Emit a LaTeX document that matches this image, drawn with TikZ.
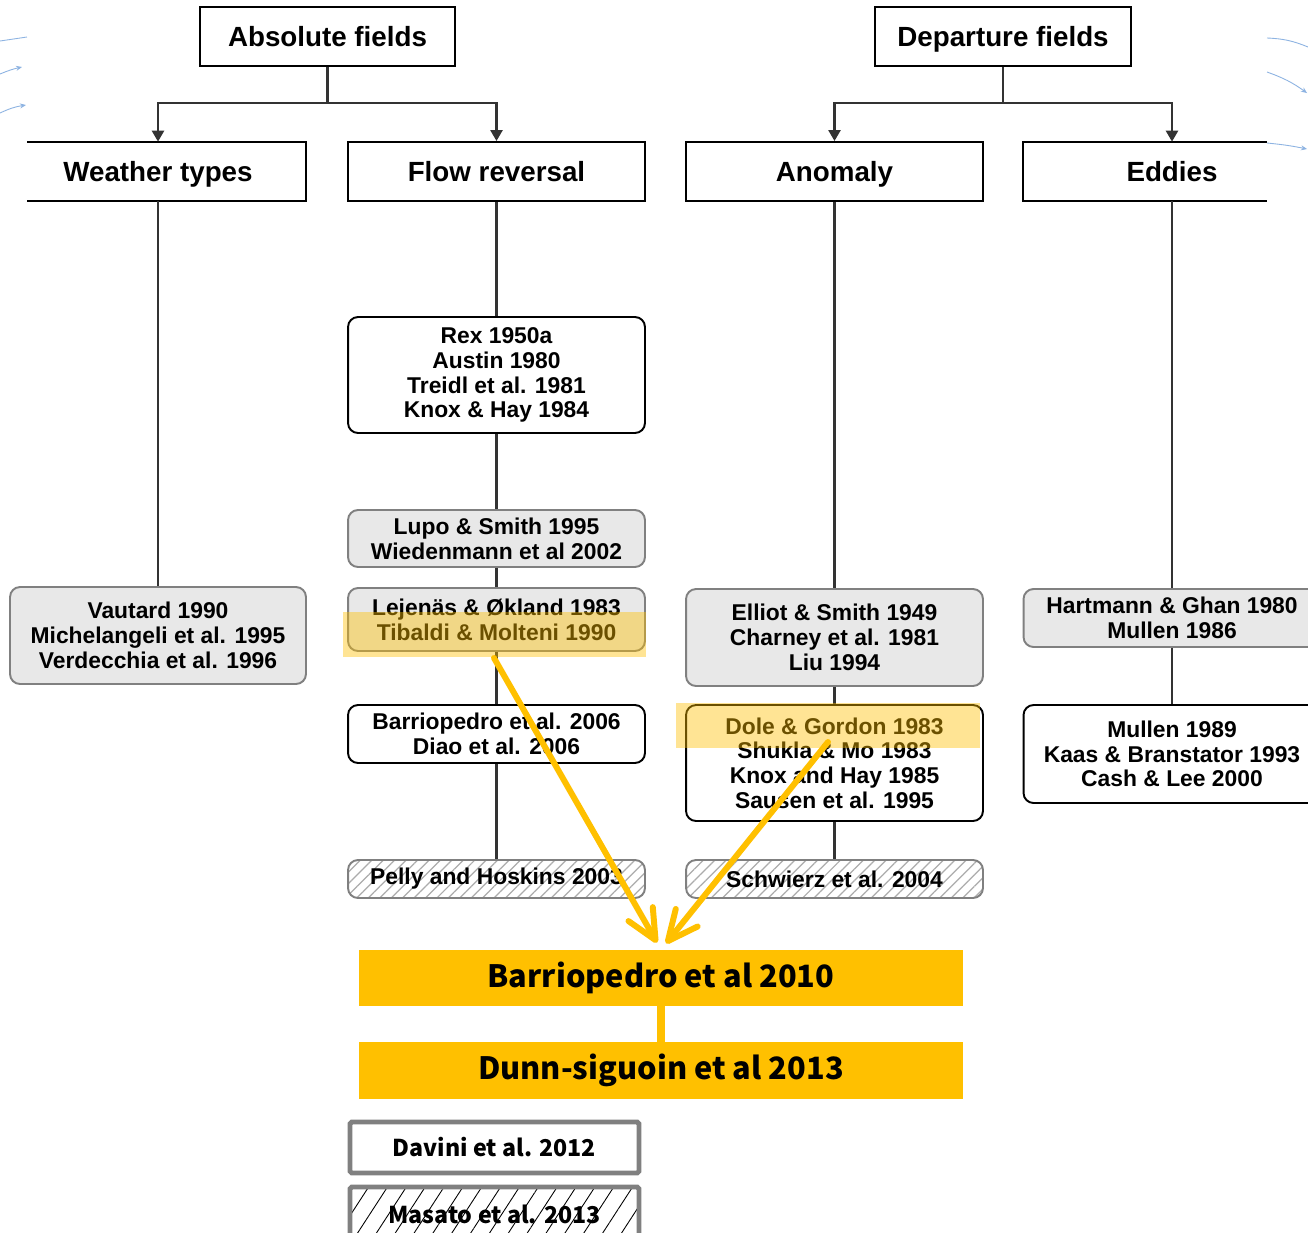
\documentclass[tikz,border=0pt]{standalone}
\usepackage{fontspec}
\setmainfont{Liberation Sans}
\newfontfamily\korfont{Noto Sans CJK KR}
\usetikzlibrary{arrows.meta}
\usetikzlibrary{patterns.meta}

\definecolor{gold}{HTML}{FFC000}
\definecolor{boxgray}{HTML}{E8E8E8}
\definecolor{edgegray}{HTML}{808080}
\definecolor{linkgray}{HTML}{333333}
\definecolor{slideblue}{HTML}{8DB3E2}

\begin{document}
\begin{tikzpicture}[
        x=0.02cm, y=-0.02cm,
        headbox/.style={draw=black, line width=1.1pt, fill=white, minimum height=1.18cm,
            text height=11.5pt, text depth=0pt, font=\fontsize{15.8}{18}\selectfont\bfseries},
        catbox/.style={minimum width=5.94cm, minimum height=1.18cm,
            text height=11.5pt, text depth=0pt, font=\fontsize{15.8}{18}\selectfont\bfseries},
        catline/.style={draw=black, line width=1.1pt},
        refbox/.style={rounded corners=0.2cm, align=center, minimum width=5.94cm, inner sep=2pt,
            font=\fontsize{13}{14.1}\selectfont\bfseries, line width=1.1pt},
        plainref/.style={refbox, draw=black, fill=white},
        greyref/.style={refbox, draw=edgegray, fill=boxgray},
        hatchref/.style={refbox, draw=edgegray, preaction={fill=white},
            pattern={Lines[angle=45, distance=4.6pt, line width=0.7pt]}, pattern color=gray!65},
        link/.style={draw=linkgray, line width=1.4pt},
        branch/.style={link, -{Triangle[length=2.2mm, width=2.4mm]}},
        hilite/.style={fill=gold, fill opacity=0.42},
        goldarrow/.style={draw=gold, line width=3.4pt, line cap=round,
            -{Straight Barb[length=6mm, width=5.6mm, round]}},
        goldbox/.style={fill=gold, minimum width=12.08cm, font=\korfont\fontsize{17.5}{20}\selectfont\bfseries},
        newbox/.style={draw=edgegray, line width=2.8pt, rounded corners=1pt, minimum width=5.78cm,
            font=\korfont\fontsize{13.2}{15}\selectfont\bfseries},
        slidearrow/.style={draw=slideblue, line width=0.5pt, -{Stealth[length=1.2mm, width=1mm]}},
    ]
    \useasboundingbox (0,0) rectangle (1308,1232);
    \clip (0,0) rectangle (1308,1232);
    \fill[white] (0,0) rectangle (1308,1232);

    % --- leftover arrows of the slide at both edges ---
    \draw[draw=slideblue, line width=0.5pt] (0,41) -- (27,37);
    \draw[slidearrow] (0,74) to[bend left=5] (22,67);
    \draw[slidearrow] (0,113) to[bend left=8] (26,105);
    \draw[draw=slideblue, line width=0.5pt] (1267,38) to[bend left=10] (1308,47);
    \draw[slidearrow] (1267,72) to[bend left=8] (1307,93);
    \draw[slidearrow] (1267,143) to[bend left=3] (1307,149);

    % --- top level ---
    \node[headbox, minimum width=5.1cm] (abs) at (327.5,36.5) {Absolute fields};
    \node[headbox, minimum width=5.12cm] (dep) at (1003,36.5) {Departure fields};

    % --- categories ---
    \node[catbox, minimum width=5.92cm] (wt) at (158,171.5) {Weather types};
    \node[catbox, draw=black, line width=1.1pt] (fr) at (496.5,171.5) {Flow reversal};
    \node[catbox, draw=black, line width=1.1pt] (an) at (834.5,171.5) {Anomaly};
    \node[catbox, minimum width=5.96cm] (ed) at (1172,171.5) {Eddies};
    \coordinate (cutl) at (27,0);
    \coordinate (cutr) at (1267,0);
    \draw[catline] (wt.north west -| cutl) -- (wt.north east) -- (wt.south east) -- (wt.south west -| cutl);
    \draw[catline] (ed.north east -| cutr) -- (ed.north west) -- (ed.south west) -- (ed.south east -| cutr);

    \coordinate (asplit) at (327.5,103);
    \coordinate (dsplit) at (1003,103);
    \draw[link] (abs.south) -- (asplit);
    \draw[link] (dep.south) -- (dsplit);
    \draw[branch] (asplit) -| (wt.north);
    \draw[branch] (asplit) -| (fr.north);
    \draw[branch] (dsplit) -| (an.north);
    \draw[branch] (dsplit) -| (ed.north);

    % --- weather types ---
    \node[greyref, minimum width=5.92cm, minimum height=1.94cm] (vau) at (158,635.5)
        {Vautard 1990\\Michelangeli et al. 1995\\Verdecchia et al. 1996};

    % --- flow reversal ---
    \node[plainref, minimum height=2.32cm] (rex) at (496.5,375)
        {Rex 1950a\\Austin 1980\\Treidl et al. 1981\\Knox \& Hay 1984};
    \node[greyref, minimum height=1.14cm] (lupo) at (496.5,538.5)
        {Lupo \& Smith 1995\\Wiedenmann et al 2002};
    \node[greyref, minimum height=1.26cm] (lej) at (496.5,619.5)
        {Lejenäs \& Økland 1983\\Tibaldi \& Molteni 1990};
    \node[plainref, minimum height=1.16cm] (bar06) at (496.5,734)
        {Barriopedro et al. 2006\\Diao et al. 2006};
    \node[hatchref, minimum height=0.76cm] (pelly) at (496.5,879)
        {Pelly and Hoskins 2003};

    % --- anomaly ---
    \node[greyref, minimum height=1.94cm] (ell) at (834.5,637.5)
        {Elliot \& Smith 1949\\Charney et al. 1981\\Liu 1994};
    \node[plainref, minimum height=2.32cm] (dole) at (834.5,763)
        {Dole \& Gordon 1983\\Shukla \& Mo 1983\\Knox and Hay 1985\\Sausen et al. 1995};
    \node[hatchref, minimum height=0.76cm] (schw) at (834.5,879)
        {Schwierz et al. 2004};

    % --- eddies ---
    \node[greyref, minimum height=1.16cm] (hart) at (1172,618)
        {Hartmann \& Ghan 1980\\Mullen 1986};
    \node[plainref, minimum height=1.96cm] (mul) at (1172,754)
        {Mullen 1989\\Kaas \& Branstator 1993\\Cash \& Lee 2000};

    % --- vertical links ---
    \draw[link] (wt.south) -- (vau.north);
    \draw[link] (fr.south) -- (rex.north);
    \draw[link] (rex.south) -- (lupo.north);
    \draw[link] (lupo.south) -- (lej.north);
    \draw[link] (lej.south) -- (bar06.north);
    \draw[link] (bar06.south) -- (pelly.north);
    \draw[link] (an.south) -- (ell.north);
    \draw[link] (ell.south) -- (dole.north);
    \draw[link] (dole.south) -- (schw.north);
    \draw[link] (ed.south) -- (hart.north);
    \draw[link] (hart.south) -- (mul.north);

    % --- highlights ---
    \fill[hilite] (343,612) rectangle (646,657);
    \fill[hilite] (676,703) rectangle (980,748);

    % --- new studies ---
    \node[goldbox, minimum height=1.12cm] (b10) at (661,978) {Barriopedro et al 2010};
    \node[goldbox, minimum height=1.14cm] (dunn) at (661,1070.5) {Dunn-siguoin et al 2013};
    \draw[draw=gold, line width=4pt] (b10.south) -- (dunn.north);

    \coordinate (tib) at (494,658);
    \coordinate (dg) at (828,742);
    \draw[goldarrow, shorten >=1.6mm] (tib) -- (b10.north);
    \draw[goldarrow, shorten >=1.6mm] (dg) -- (b10.north);

    \node[newbox, fill=white, minimum height=1.02cm] (dav) at (494.5,1147.5) {Davini et al. 2012};
    \node[newbox, preaction={fill=white}, pattern={Lines[angle=57, distance=9pt, line width=0.5pt]},
        minimum height=1.08cm] (mas) at (494.5,1214) {Masato et al. 2013};
\end{tikzpicture}
\end{document}
